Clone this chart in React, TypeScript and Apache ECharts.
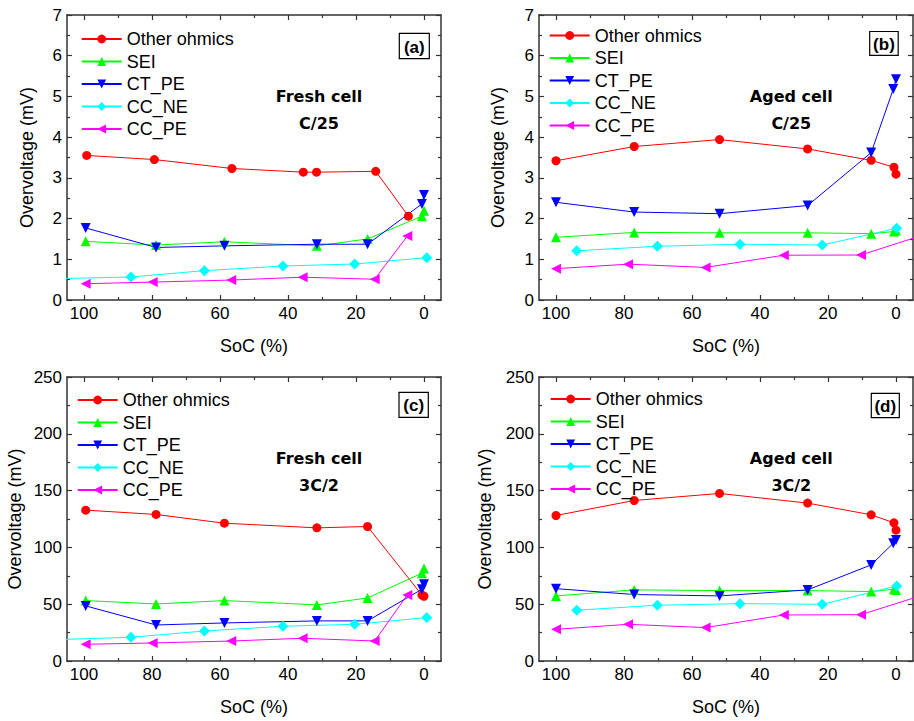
import React, { useEffect, useRef } from 'react';
import * as echarts from 'echarts';

// ---------- shared ----------
const seriesNames = ['Other ohmics', 'SEI', 'CT_PE', 'CC_NE', 'CC_PE'];
const seriesColors = ['#ff0000', '#00ff00', '#0000ff', '#00ffff', '#ff00ff'];
const xMajorTicks = [0, 20, 40, 60, 80, 100];
const xMinorTicks = [10, 30, 50, 70, 90];
const panelTags = ['(a)', '(b)', '(c)', '(d)'];
const panelTitles = [
  ['Fresh cell', 'C/25'],
  ['Aged cell', 'C/25'],
  ['Fresh cell', '3C/2'],
  ['Aged cell', '3C/2'],
];

// ---------- panel (a): fresh cell, C/25 (mV) ----------
const aOhmSoc = [99.2, 79.3, 56.5, 35.5, 31.6, 14.2, 4.6];
const aOhm = [3.55, 3.45, 3.23, 3.14, 3.14, 3.16, 2.06];
const aSeiSoc = [99.5, 78.8, 58.7, 31.5, 16.6, 0.6, 0];
const aSei = [1.44, 1.35, 1.43, 1.33, 1.5, 2.06, 2.19];
const aCtSoc = [99.5, 78.8, 58.7, 31.5, 16.6, 0.6, 0];
const aCt = [1.77, 1.29, 1.33, 1.37, 1.37, 2.36, 2.58];
const aNeSoc = [110, 86.2, 64.6, 41.5, 20.4, -0.8];
const aNe = [0.52, 0.565, 0.72, 0.835, 0.884, 1.04];
const aPeSoc = [99.5, 79.8, 56.7, 35.7, 14.5, 4.9];
const aPe = [0.4, 0.44, 0.49, 0.56, 0.51, 1.57];

// ---------- panel (b): aged cell, C/25 (mV) ----------
const bOhmSoc = [100, 77, 51.9, 26, 7.3, 0.6, 0];
const bOhm = [3.42, 3.77, 3.94, 3.71, 3.43, 3.26, 3.09];
const bSeiSoc = [100, 77, 51.9, 26, 7.3, 0.6, 0];
const bSei = [1.54, 1.66, 1.65, 1.65, 1.63, 1.68, 1.71];
const bCtSoc = [100, 77, 51.9, 26, 7.3, 0.8, 0];
const bCt = [2.4, 2.16, 2.12, 2.32, 3.62, 5.18, 5.42];
const bNeSoc = [93.9, 70.2, 45.9, 21.7, -0.2];
const bNe = [1.21, 1.32, 1.37, 1.35, 1.76];
const bPeSoc = [100, 78.8, 56, 33, 10.3, -10];
const bPe = [0.77, 0.88, 0.8, 1.1, 1.105, 1.65];

// ---------- panel (c): fresh cell, 3C/2 (mV) ----------
const cOhmSoc = [99.5, 78.8, 58.7, 31.5, 16.6, 0.6, 0];
const cOhm = [132.8, 129.0, 121.3, 117.2, 118.4, 58.0, 57.0];
const cSeiSoc = [99.5, 78.8, 58.7, 31.5, 16.6, 0.6, 0];
const cSei = [53.2, 50.2, 53.2, 49.4, 55.5, 77.3, 81.4];
const cCtSoc = [99.5, 78.8, 58.7, 31.5, 16.6, 0.6, 0];
const cCt = [48.5, 31.7, 33.5, 35.3, 35.3, 63.2, 67.6];
const cNeSoc = [110, 86.2, 64.6, 41.5, 20.4, -0.8];
const cNe = [18.6, 20.9, 26.4, 30.6, 32.3, 38.2];
const cPeSoc = [99.5, 79.8, 56.7, 35.7, 14.5, 4.9];
const cPe = [14.7, 15.9, 17.6, 20.0, 17.6, 58.2];

// ---------- panel (d): aged cell, 3C/2 (mV) ----------
const dOhmSoc = [100, 77, 51.9, 26, 7.3, 0.6, 0];
const dOhm = [128.1, 141.3, 147.5, 139.0, 128.7, 121.6, 115.2];
const dSeiSoc = [100, 77, 51.9, 26, 7.3, 0.6, 0];
const dSei = [57.3, 62.6, 62.0, 62.0, 61.1, 63.2, 62.6];
const dCtSoc = [100, 77, 51.9, 26, 7.3, 0.8, 0];
const dCt = [63.7, 58.5, 57.3, 62.6, 84.6, 103.7, 106.6];
const dNeSoc = [93.9, 70.2, 45.9, 21.7, -0.2];
const dNe = [44.7, 49.1, 50.5, 49.9, 66.1];
const dPeSoc = [100, 78.8, 56, 33, 10.3, -10];
const dPe = [27.9, 32.3, 29.4, 40.5, 40.8, 60.0];

const panelData = [
  [[aOhmSoc, aOhm], [aSeiSoc, aSei], [aCtSoc, aCt], [aNeSoc, aNe], [aPeSoc, aPe]],
  [[bOhmSoc, bOhm], [bSeiSoc, bSei], [bCtSoc, bCt], [bNeSoc, bNe], [bPeSoc, bPe]],
  [[cOhmSoc, cOhm], [cSeiSoc, cSei], [cCtSoc, cCt], [cNeSoc, cNe], [cPeSoc, cPe]],
  [[dOhmSoc, dOhm], [dSeiSoc, dSei], [dCtSoc, dCt], [dNeSoc, dNe], [dPeSoc, dPe]],
];
const panelYMax = [7, 7, 250, 250];
const panelYInterval = [1, 1, 50, 50];

// ---------- layout (pixels) ----------
const layout = [
  { grid: { left: 67, top: 15, width: 374, height: 285 }, legend: { left: 80.7, top: 30 }, yGap: 31, tag: [399.3, 33.3, 30, 25.4], titleX: 319, titleY: [96, 123] },
  { grid: { left: 539, top: 15, width: 374, height: 285 }, legend: { left: 548.7, top: 26.5 }, yGap: 32, tag: [869.7, 31.5, 28.5, 23.8], titleX: 791.3, titleY: [96.7, 123.3] },
  { grid: { left: 67, top: 377, width: 374, height: 284 }, legend: { left: 76.7, top: 391 }, yGap: 43, tag: [399, 392.3, 29.3, 25], titleX: 319, titleY: [458.3, 485] },
  { grid: { left: 539, top: 377, width: 374, height: 284 }, legend: { left: 549.7, top: 390 }, yGap: 45, tag: [871.3, 393.3, 28, 24.4], titleX: 791.3, titleY: [458.7, 485.7] },
];

const symbolDefs = [
  { symbol: 'circle', symbolSize: 9, symbolRotate: 0 },
  { symbol: 'triangle', symbolSize: 10, symbolRotate: 0 },
  { symbol: 'triangle', symbolSize: 10, symbolRotate: 180 },
  { symbol: 'diamond', symbolSize: 11, symbolRotate: 0 },
  { symbol: 'triangle', symbolSize: 10, symbolRotate: 90 },
];

const FONT = "'Liberation Sans', Arial, sans-serif";
const AXIS_COLOR = '#333';

function buildOption() {
  const grids: any[] = [];
  const xAxes: any[] = [];
  const yAxes: any[] = [];
  const legends: any[] = [];
  const series: any[] = [];
  const graphics: any[] = [];

  layout.forEach((L, p) => {
    grids.push({ ...L.grid, containLabel: false, show: false });
    const xBase = {
      type: 'value', gridIndex: p, min: -5, max: 105, inverse: true,
      splitLine: { show: false },
      axisLine: { onZero: false, lineStyle: { color: AXIS_COLOR, width: 1.5 } },
    };
    xAxes.push({
      ...xBase, position: 'bottom',
      axisTick: { show: true, inside: true, length: 5, customValues: xMajorTicks, lineStyle: { color: AXIS_COLOR, width: 1.2 } },
      axisLabel: { show: true, customValues: xMajorTicks, fontSize: 17, fontFamily: FONT, color: '#000', margin: 5 },
      name: 'SoC (%)', nameLocation: 'middle', nameGap: 37,
      nameTextStyle: { fontSize: 18, fontFamily: FONT, color: '#000' },
    });
    xAxes.push({
      ...xBase, position: 'bottom',
      axisLine: { show: false, onZero: false },
      axisTick: { show: true, inside: true, length: 3, customValues: xMinorTicks, lineStyle: { color: AXIS_COLOR, width: 1.2 } },
      axisLabel: { show: false },
    });
    xAxes.push({
      ...xBase, position: 'top',
      axisTick: { show: true, inside: true, length: 5, customValues: xMajorTicks, lineStyle: { color: AXIS_COLOR, width: 1.2 } },
      axisLabel: { show: false },
    });
    xAxes.push({
      ...xBase, position: 'top',
      axisLine: { show: false, onZero: false },
      axisTick: { show: true, inside: true, length: 3, customValues: xMinorTicks, lineStyle: { color: AXIS_COLOR, width: 1.2 } },
      axisLabel: { show: false },
    });

    const yBase = {
      type: 'value', gridIndex: p, min: 0, max: panelYMax[p], interval: panelYInterval[p],
      splitLine: { show: false },
      axisLine: { show: true, onZero: false, lineStyle: { color: AXIS_COLOR, width: 1.5 } },
      axisTick: { show: true, inside: true, length: 5, lineStyle: { color: AXIS_COLOR, width: 1.2 } },
      minorTick: { show: true, splitNumber: 2, length: 3, lineStyle: { color: AXIS_COLOR, width: 1.2 } },
      minorSplitLine: { show: false },
    };
    yAxes.push({
      ...yBase, position: 'left',
      axisLabel: { show: true, fontSize: 17, fontFamily: FONT, color: '#000', margin: 5 },
      name: 'Overvoltage (mV)', nameLocation: 'middle', nameGap: L.yGap, nameRotate: 90,
      nameTextStyle: { fontSize: 18, fontFamily: FONT, color: '#000' },
    });
    yAxes.push({ ...yBase, position: 'right', axisLabel: { show: false } });

    legends.push({
      orient: 'vertical', left: L.legend.left, top: L.legend.top, padding: 0,
      itemWidth: 40, itemHeight: 11, itemGap: 4.5,
      data: seriesNames,
      textStyle: { fontSize: 18, fontFamily: FONT, color: '#000', lineHeight: 18 },
      selectedMode: false,
    });

    panelData[p].forEach((pair, k) => {
      const [socs, vals] = pair;
      series.push({
        type: 'line', name: seriesNames[k],
        xAxisIndex: p * 4, yAxisIndex: p * 2,
        data: socs.map((s: number, i: number) => [s, vals[i]]),
        ...symbolDefs[k],
        showAllSymbol: true,
        clip: true,
        color: seriesColors[k],
        lineStyle: { color: seriesColors[k], width: 1 },
        itemStyle: { color: seriesColors[k] },
        emphasis: { disabled: true },
      });
    });

    const [tx, ty, tw, th] = L.tag;
    graphics.push({
      type: 'rect', shape: { x: tx, y: ty, width: tw, height: th },
      style: { fill: '#fff', stroke: '#000', lineWidth: 1.2 }, z: 100,
    });
    graphics.push({
      type: 'text', x: tx + tw / 2, y: ty + th / 2 + 1, z: 101,
      style: { text: panelTags[p], align: 'center', verticalAlign: 'middle', textAlign: 'center', textVerticalAlign: 'middle', font: "bold 17px 'Liberation Sans', Arial, sans-serif", fill: '#000' },
    });
    panelTitles[p].forEach((t, j) => {
      graphics.push({
        type: 'text', x: L.titleX, y: L.titleY[j], z: 101,
        style: { text: t, align: 'center', verticalAlign: 'middle', textAlign: 'center', textVerticalAlign: 'middle', font: "bold 16px 'DejaVu Sans', sans-serif", fill: '#000' },
      });
    });
  });

  return {
    animation: false,
    backgroundColor: '#fff',
    grid: grids,
    xAxis: xAxes,
    yAxis: yAxes,
    legend: legends,
    series,
    graphic: graphics,
  };
}

export default function App() {
  const ref = useRef<HTMLDivElement>(null);
  useEffect(() => {
    if (!ref.current) return;
    const chart = echarts.init(ref.current, undefined, { renderer: 'svg' });
    chart.setOption(buildOption() as any);
    return () => chart.dispose();
  }, []);
  return (
    <div
      ref={ref}
      style={{ position: 'fixed', left: 0, top: 0, width: 914, height: 721, background: '#fff' }}
    />
  );
}
